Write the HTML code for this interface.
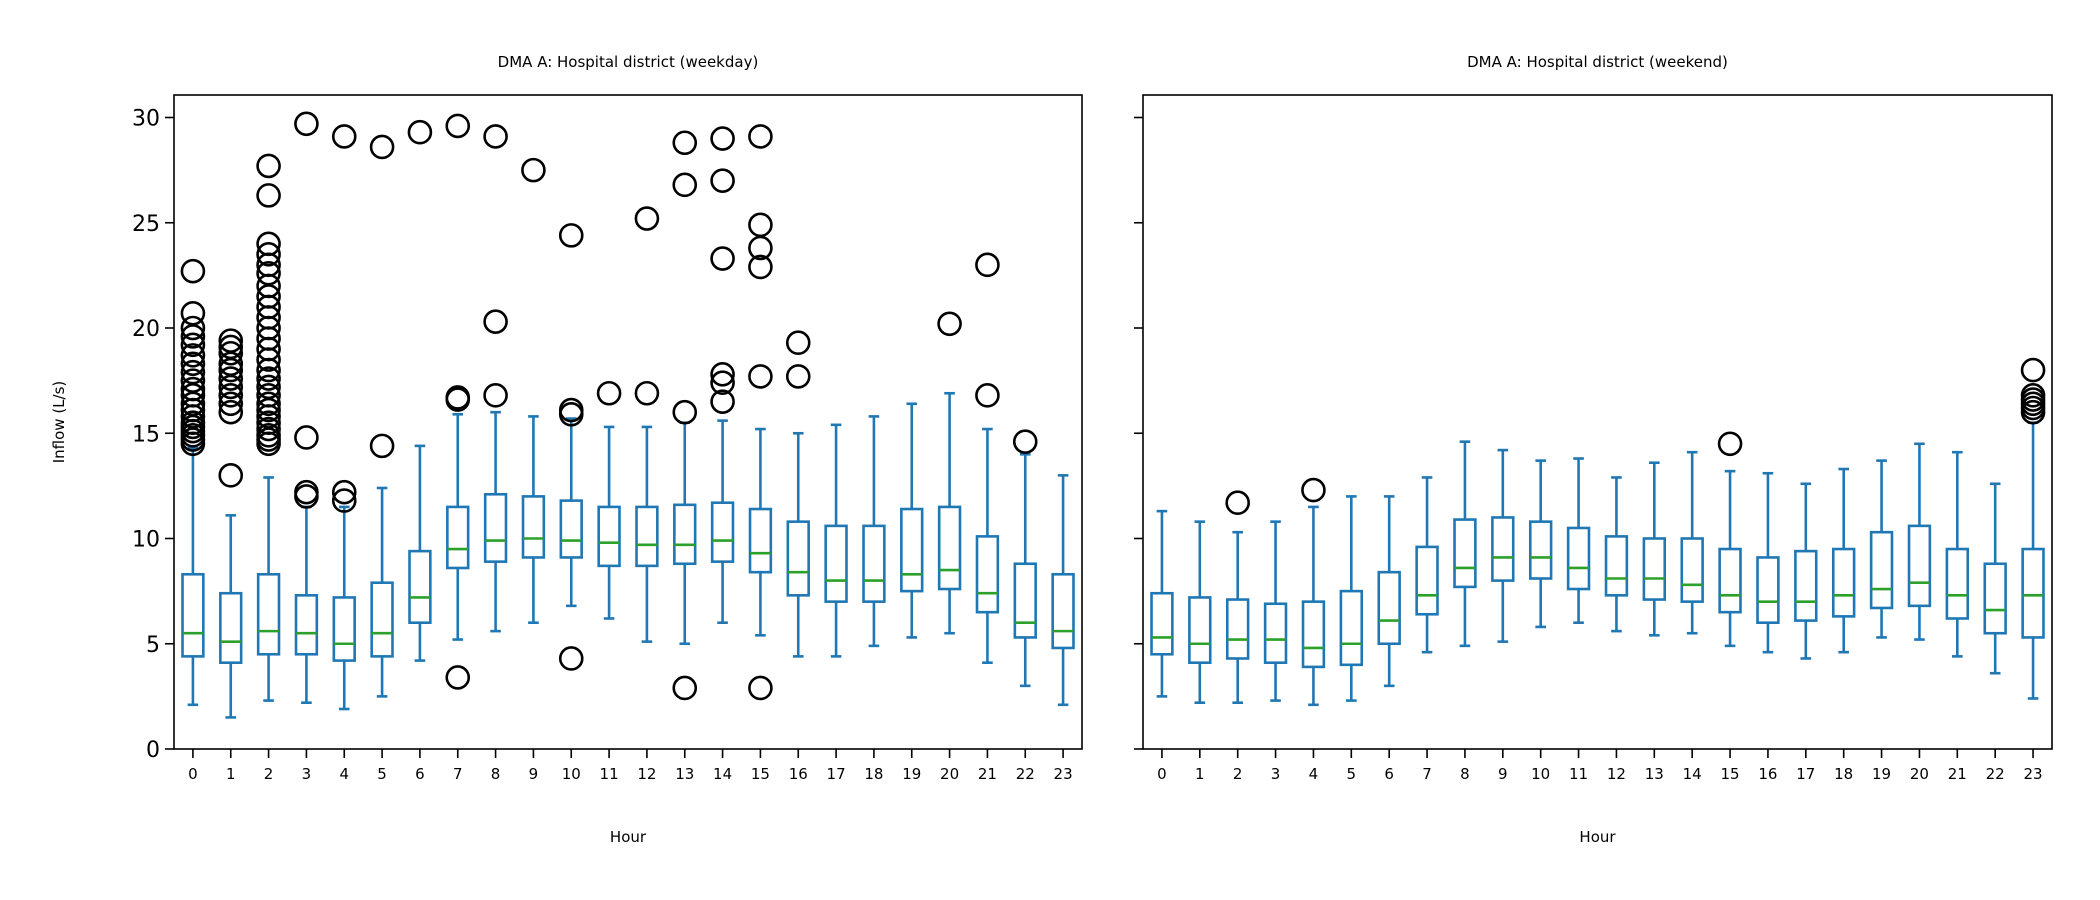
<!DOCTYPE html>
<html><head><meta charset="utf-8"><style>
body{margin:0;background:#fff}
svg{display:block;font-family:"DejaVu Sans","Liberation Sans",sans-serif}
</style></head><body>
<svg id="c" width="2100" height="900"></svg>
<script>
const hours=[0,1,2,3,4,5,6,7,8,9,10,11,12,13,14,15,16,17,18,19,20,21,22,23];
const yTicks=[0,5,10,15,20,25,30];
// weekday: [q1, median, q3, whisker-low, whisker-high]
const wdStats=[[4.4,5.5,8.3,2.1,14.3],[4.1,5.1,7.4,1.5,11.1],[4.5,5.6,8.3,2.3,12.9],[4.5,5.5,7.3,2.2,11.5],[4.2,5.0,7.2,1.9,11.5],[4.4,5.5,7.9,2.5,12.4],[6.0,7.2,9.4,4.2,14.4],[8.6,9.5,11.5,5.2,15.9],[8.9,9.9,12.1,5.6,16.0],[9.1,10.0,12.0,6.0,15.8],[9.1,9.9,11.8,6.8,15.7],[8.7,9.8,11.5,6.2,15.3],[8.7,9.7,11.5,5.1,15.3],[8.8,9.7,11.6,5.0,15.5],[8.9,9.9,11.7,6.0,15.6],[8.4,9.3,11.4,5.4,15.2],[7.3,8.4,10.8,4.4,15.0],[7.0,8.0,10.6,4.4,15.4],[7.0,8.0,10.6,4.9,15.8],[7.5,8.3,11.4,5.3,16.4],[7.6,8.5,11.5,5.5,16.9],[6.5,7.4,10.1,4.1,15.2],[5.3,6.0,8.8,3.0,14.0],[4.8,5.6,8.3,2.1,13.0]];
const wdOut=[[14.5,14.7,14.9,15.1,15.3,15.5,15.8,16.1,16.4,16.8,17.1,17.5,17.9,18.3,18.7,19.2,19.6,20.0,20.7,22.7],[13.0,16.0,16.4,16.8,17.2,17.6,18.0,18.3,18.8,19.1,19.4],[14.5,14.7,14.9,15.2,15.5,15.8,16.1,16.4,16.8,17.2,17.6,18.0,18.5,19.0,19.5,20.0,20.5,21.0,21.5,22.0,22.6,23.0,23.5,24.0,26.3,27.7],[12.0,12.2,14.8,29.7],[11.8,12.2,29.1],[14.4,28.6],[29.3],[3.4,16.6,16.7,29.6],[16.8,20.3,29.1],[27.5],[4.3,15.9,16.1,24.4],[16.9],[16.9,25.2],[2.9,16.0,26.8,28.8],[16.5,17.4,17.8,23.3,27.0,29.0],[2.9,17.7,22.9,23.8,24.9,29.1],[17.7,19.3],[],[],[],[20.2],[16.8,23.0],[14.6],[]];
const weStats=[[4.5,5.3,7.4,2.5,11.3],[4.1,5.0,7.2,2.2,10.8],[4.3,5.2,7.1,2.2,10.3],[4.1,5.2,6.9,2.3,10.8],[3.9,4.8,7.0,2.1,11.5],[4.0,5.0,7.5,2.3,12.0],[5.0,6.1,8.4,3.0,12.0],[6.4,7.3,9.6,4.6,12.9],[7.7,8.6,10.9,4.9,14.6],[8.0,9.1,11.0,5.1,14.2],[8.1,9.1,10.8,5.8,13.7],[7.6,8.6,10.5,6.0,13.8],[7.3,8.1,10.1,5.6,12.9],[7.1,8.1,10.0,5.4,13.6],[7.0,7.8,10.0,5.5,14.1],[6.5,7.3,9.5,4.9,13.2],[6.0,7.0,9.1,4.6,13.1],[6.1,7.0,9.4,4.3,12.6],[6.3,7.3,9.5,4.6,13.3],[6.7,7.6,10.3,5.3,13.7],[6.8,7.9,10.6,5.2,14.5],[6.2,7.3,9.5,4.4,14.1],[5.5,6.6,8.8,3.6,12.6],[5.3,7.3,9.5,2.4,15.5]];
const weOut=[[],[],[11.7],[],[12.3],[],[],[],[],[],[],[],[],[],[],[14.5],[],[],[],[],[],[],[],[16.0,16.2,16.4,16.6,16.8,18.0]];

const NS="http://www.w3.org/2000/svg";
const svg=document.getElementById('c');
function mk(t,a,p){const e=document.createElementNS(NS,t);for(const k in a)e.setAttribute(k,a[k]);(p||svg).appendChild(e);return e;}
const axTop=95,axBot=749;
const sy=v=>axBot-(v/30)*(axBot-117.5);
const blue="#1f77b4";
function panel(x0,x1,stats,outs,title,name,showY){
  const g=mk('g',{});
  
  
  const step=(x1-x0)/24;
  const sx=i=>x0+step*(i+0.5);
  const bw=step*0.55, cw=step*0.28;
  stats.forEach((s,i)=>{
    const x=sx(i);
    const b=mk('g',{},g);
    
    
    const st={stroke:blue,'stroke-width':2.6,fill:'none'};
    mk('line',Object.assign({x1:x,x2:x,y1:sy(s[0]),y2:sy(s[3])},st),b);
    mk('line',Object.assign({x1:x,x2:x,y1:sy(s[2]),y2:sy(s[4])},st),b);
    mk('line',Object.assign({x1:x-cw/2,x2:x+cw/2,y1:sy(s[3]),y2:sy(s[3])},st),b);
    mk('line',Object.assign({x1:x-cw/2,x2:x+cw/2,y1:sy(s[4]),y2:sy(s[4])},st),b);
    mk('rect',Object.assign({x:x-bw/2,y:sy(s[2]),width:bw,height:sy(s[0])-sy(s[2])},st),b);
    mk('line',{x1:x-bw/2,x2:x+bw/2,y1:sy(s[1]),y2:sy(s[1]),stroke:'#2ca02c','stroke-width':2.6},b);
    outs[i].forEach(v=>{
      const c=mk('circle',{cx:x,cy:sy(v),r:11,fill:'none',stroke:'#000','stroke-width':2.6},b);
      
      
    });
    mk('line',{x1:x,x2:x,y1:axBot,y2:axBot+9,stroke:'#000','stroke-width':1.6},g);
    const t=mk('text',{x:x,y:axBot+30,'font-size':15,'text-anchor':'middle'},g);
    t.textContent=hours[i];
    
    
  });
  yTicks.forEach(v=>{
    mk('line',{x1:x0-9,x2:x0,y1:sy(v),y2:sy(v),stroke:'#000','stroke-width':1.6},g);
    if(showY){const t=mk('text',{x:x0-14,y:sy(v)+8,'font-size':22,'text-anchor':'end'},g);t.textContent=v;
      }
  });
  const f=mk('rect',{x:x0,y:axTop,width:x1-x0,height:axBot-axTop,fill:'none',stroke:'#000','stroke-width':1.6},g);
  
  const tt=mk('text',{x:(x0+x1)/2,y:67,'font-size':15,'text-anchor':'middle'},g);tt.textContent=title;
  
  const xl=mk('text',{x:(x0+x1)/2,y:842,'font-size':15,'text-anchor':'middle'},g);xl.textContent='Hour';
  
}
panel(174,1082,wdStats,wdOut,'DMA A: Hospital district (weekday)','weekday-panel',true);
panel(1143,2052,weStats,weOut,'DMA A: Hospital district (weekend)','weekend-panel',false);
const yl=mk('text',{x:0,y:0,'font-size':15,'text-anchor':'middle',transform:'translate(64,422) rotate(-90)'});
yl.textContent='Inflow (L/s)';


</script>
</body></html>
